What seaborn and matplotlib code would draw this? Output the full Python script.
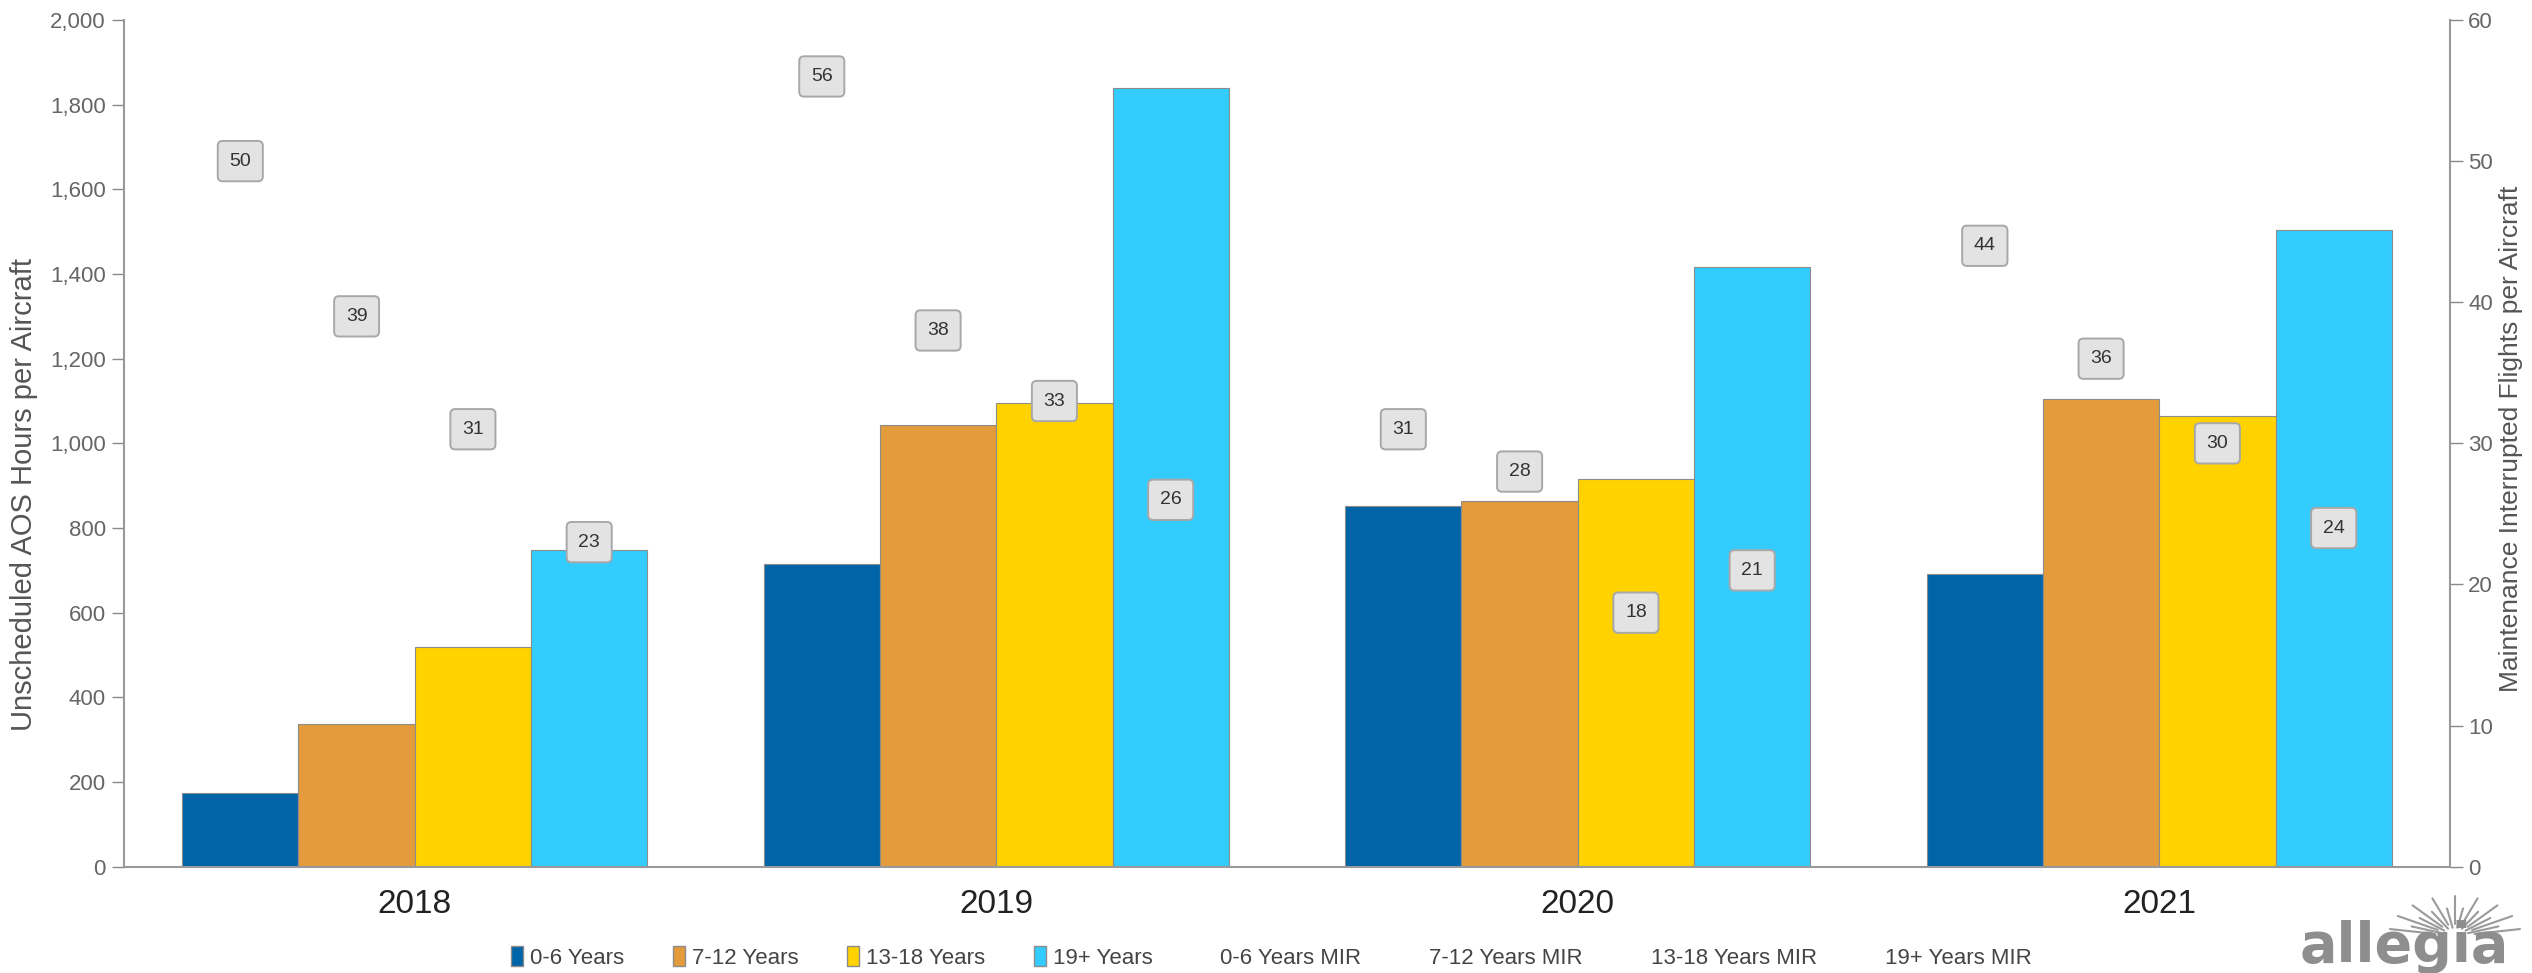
import numpy as np
import pandas as pd
import matplotlib
matplotlib.use("Agg")
import matplotlib.pyplot as plt
import seaborn as sns
from matplotlib.patches import Patch
from matplotlib.lines import Line2D

# ---- data ----
years = ["2018", "2019", "2020", "2021"]
age_groups = ["0-6 Years", "7-12 Years", "13-18 Years", "19+ Years"]
aos_0_6 = [173, 714, 851, 692]
aos_7_12 = [336, 1043, 863, 1105]
aos_13_18 = [518, 1096, 915, 1065]
aos_19p = [747, 1839, 1416, 1503]
mir_0_6 = [50, 56, 31, 44]
mir_7_12 = [39, 38, 28, 36]
mir_13_18 = [31, 33, 18, 30]
mir_19p = [23, 26, 21, 24]
mir_labels = ["0-6 Years MIR", "7-12 Years MIR", "13-18 Years MIR", "19+ Years MIR"]

colors = ["#0064A8", "#E39B3B", "#FFD200", "#33CCFF"]

aos = [aos_0_6, aos_7_12, aos_13_18, aos_19p]
mir = [mir_0_6, mir_7_12, mir_13_18, mir_19p]

rows = []
for g, vals in zip(age_groups, aos):
    for y, v in zip(years, vals):
        rows.append({"Year": y, "Group": g, "AOS": v})
df = pd.DataFrame(rows)

sns.set_theme(style="white")
plt.rcParams["font.family"] = ["Liberation Sans", "DejaVu Sans"]

W, H = 2532, 973
fig = plt.figure(figsize=(W / 100, H / 100), dpi=100)
left, right, top, bottom = 124, 2450, 20, 866.7
ax = fig.add_axes([left / W, 1 - bottom / H, (right - left) / W, (bottom - top) / H])

sns.barplot(data=df, x="Year", y="AOS", hue="Group", order=years, hue_order=age_groups,
            palette=colors, width=0.8, edgecolor="#8c8c8c", linewidth=0.8,
            saturation=1, ax=ax, legend=False, errorbar=None)

ax.set_xlim(-0.5, 3.5)
ax.set_ylim(0, 2000)
ax.set_yticks(np.arange(0, 2001, 200))
ax.set_yticklabels([f"{v:,}" for v in range(0, 2001, 200)])
ax.set_ylabel("Unscheduled AOS Hours per Aircraft", fontsize=21, color="#555555")
ax.yaxis.set_label_coords(-0.037, 0.44)
ax.set_xlabel("")

# x ticks: boundaries as major ticks, years as minor labels
ax.set_xticks([-0.5, 0.5, 1.5, 2.5, 3.5])
ax.set_xticklabels([])
ax.set_xticks(range(4), minor=True)
ax.set_xticklabels(years, minor=True, fontsize=24, color="#222222")
ax.tick_params(axis="x", which="major", direction="out", length=10, width=1, color="#888888")
ax.tick_params(axis="x", which="minor", length=0, pad=16)
ax.tick_params(axis="y", direction="out", length=9, width=1, color="#888888",
               labelsize=16, labelcolor="#666666", pad=4)

for s in ["top", "right"]:
    ax.spines[s].set_visible(False)
for s in ["left", "bottom"]:
    ax.spines[s].set_color("#999999")
    ax.spines[s].set_linewidth(1.5)

ax2 = ax.twinx()
ax2.set_ylim(0, 60)
ax2.set_yticks(np.arange(0, 61, 10))
ax2.tick_params(axis="y", direction="out", length=9, width=1, color="#888888",
                labelsize=16, labelcolor="#666666", pad=4)
ax2.set_ylabel("Maintenance Interrupted Flights per Aircraft", fontsize=19, color="#555555",
               rotation=90)
ax2.yaxis.set_label_coords(1.021, 0.505)
for s in ["top", "left", "bottom"]:
    ax2.spines[s].set_visible(False)
ax2.spines["right"].set_color("#999999")
ax2.spines["right"].set_linewidth(1.5)
ax2.grid(False)
ax.grid(False)

# MIR data labels at their values on the secondary axis, centered over each bar
for i, vals in enumerate(mir):
    bars = ax.containers[i]
    for bar, v in zip(bars, vals):
        xc = bar.get_x() + bar.get_width() / 2
        ax2.text(xc, v, f"{v}", ha="center", va="center", fontsize=14, color="#333333",
                 bbox=dict(boxstyle="round,pad=0.6,rounding_size=0.25", fc="#E3E3E3",
                           ec="#A8A8A8", lw=1.4))

# legend
handles = [Patch(facecolor=c, edgecolor="#8c8c8c", label=l) for c, l in zip(colors, age_groups)]
handles += [Line2D([], [], linestyle="none", marker=None, label=l) for l in mir_labels]
fig.legend(handles=handles, loc="center", bbox_to_anchor=(0.502, 0.016), ncol=8,
           frameon=False, fontsize=16, handlelength=0.55, handleheight=1.0,
           handletextpad=0.3, columnspacing=2.2, labelcolor="#444444")

# logo
fig.text(0.9495, 0.027, "allegia", ha="center", va="center", fontsize=40, weight="bold",
         color="#8e8e8e", family="DejaVu Sans")
cx, cy = 2455 / W, 1 - 936 / H
for ang in np.linspace(10, 170, 17):
    r = 1.0 if int(round(ang)) % 20 == 10 else 0.7
    dx = np.cos(np.radians(ang)) * r * 66 / W
    dy = np.sin(np.radians(ang)) * r * 40 / H
    fig.add_artist(Line2D([cx + dx * 0.3, cx + dx], [cy + dy * 0.3, cy + dy],
                          transform=fig.transFigure, color="#9a9a9a", lw=1.5))

fig.savefig("out.png", dpi=100, facecolor="white")
